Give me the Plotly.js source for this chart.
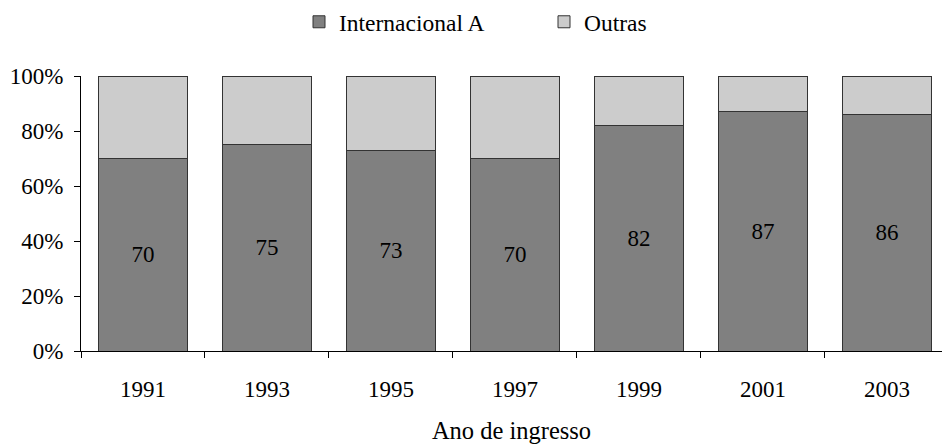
<!DOCTYPE html>
<html><head><meta charset="utf-8">
<script src="https://cdn.plot.ly/plotly-3.0.1.min.js"></script>
<style>html,body{margin:0;padding:0;background:#fff}</style>
</head><body>
<div id="chart" style="width:942px;height:444px"></div>
<script>
const years = ["1991","1993","1995","1997","1999","2001","2003"];
const internacionalA = [70, 75, 73, 70, 82, 87, 86];
const outras = [30, 25, 27, 30, 18, 13, 14];
const yTickVals = [0, 20, 40, 60, 80, 100];
const yTickText = ["0%","20%","40%","60%","80%","100%"];

const FAM = "Liberation Serif";
const f = (s) => ({family: FAM, size: s, color: "#000"});
const data = [
  {type: "bar", name: "Internacional A", x: years, y: internacionalA,
   marker: {color: "#808080", line: {color: "#333333", width: 1}},
   text: internacionalA.map(String), textposition: "inside", insidetextanchor: "middle",
   textfont: f(23), hoverinfo: "none"},
  {type: "bar", name: "Outras", x: years, y: outras,
   marker: {color: "#cccccc", line: {color: "#333333", width: 1}},
   hoverinfo: "none"}
];
const layout = {
  barmode: "stack", bargap: 0.28,
  width: 942, height: 444,
  margin: {l: 81, r: 0, t: 75, b: 93},
  paper_bgcolor: "#fff", plot_bgcolor: "#fff",
  font: f(23),
  showlegend: true,
  legend: {orientation: "h", x: 0.2532, xanchor: "left", y: 1.195, yanchor: "middle",
           font: f(23.5), traceorder: "normal", entrywidth: 200, entrywidthmode: "pixels"},
  xaxis: {type: "category", range: [-0.5, 6.444], showline: true, linecolor: "#000", linewidth: 1,
          ticks: "outside", ticklen: 6, tickcolor: "#000", tickson: "boundaries",
          ticklabelstandoff: 17,
          showgrid: false, zeroline: false, tickfont: f(23),
          title: {text: "Ano de ingresso", font: f(24.5), standoff: 22}},
  yaxis: {range: [0, 100], tickvals: yTickVals, ticktext: yTickText, showline: true,
          linecolor: "#000", linewidth: 1, ticks: "outside", ticklen: 6, tickcolor: "#000",
          ticklabelstandoff: 6,
          showgrid: false, zeroline: false, tickfont: f(23)}
};
Plotly.newPlot("chart", data, layout, {staticPlot: true, displayModeBar: false});
</script>
</body></html>
